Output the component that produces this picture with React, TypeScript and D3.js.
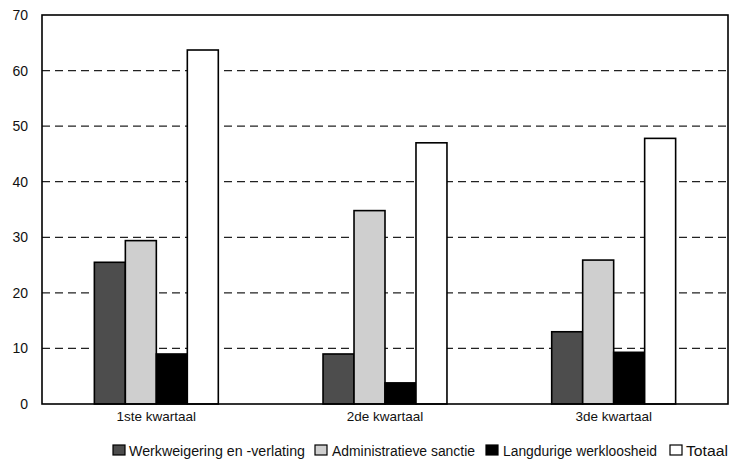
import React from "react";
import * as d3 from "d3";

const categories = ["1ste kwartaal", "2de kwartaal", "3de kwartaal"];
const seriesNames = [
  "Werkweigering en -verlating",
  "Administratieve sanctie",
  "Langdurige werkloosheid",
  "Totaal",
];
const werkweigering = [25.5, 9.0, 13.0];
const administratief = [29.4, 34.8, 25.9];
const langdurig = [9.0, 3.8, 9.3];
const totaal = [63.7, 47.0, 47.8];
const yTicks = [0, 10, 20, 30, 40, 50, 60, 70];

const seriesValues = [werkweigering, administratief, langdurig, totaal];
const fills = ["#4d4d4d", "#cfcfcf", "#000000", "#ffffff"];

const W = 730;
const H = 467;
const left = 42;
const right = 728;
const top = 15;
const bottom = 404;

export default function App() {
  const x = d3.scaleBand<string>().domain(categories).range([left, right]).paddingInner(0.458).paddingOuter(0.229);
  const xs = d3.scaleBand<string>().domain(seriesNames).range([0, x.bandwidth()]).padding(0);
  const y = d3.scaleLinear().domain([0, 70]).range([bottom, top]);

  const legendX = [113, 315, 486, 670];
  const legendTextX = [129, 332, 503, 686];
  const legendTextW = [176, 143, 154, 42];

  return (
    <div style={{ position: "absolute", left: 0, top: 0 }}>
      <svg width={W} height={H} style={{ display: "block", fontFamily: "Arial, 'Liberation Sans', sans-serif" }}>
        <rect x={0} y={0} width={W} height={H} fill="#fff" />
        {yTicks.filter((t) => t > 0 && t < 70).map((t) => (
          <line key={t} x1={left} x2={right} y1={y(t)} y2={y(t)} stroke="#222" strokeWidth={1.2} strokeDasharray="8,5" />
        ))}
        {categories.map((c, ci) =>
          seriesNames.map((s, si) => {
            const v = seriesValues[si][ci];
            const bx = (x(c) as number) + (xs(s) as number);
            return (
              <rect
                key={c + s}
                x={bx}
                y={y(v)}
                width={xs.bandwidth()}
                height={y(0) - y(v)}
                fill={fills[si]}
                stroke="#000"
                strokeWidth={1.6}
              />
            );
          })
        )}
        <rect x={left} y={top} width={right - left} height={bottom - top} fill="none" stroke="#000" strokeWidth={1.6} />
        {yTicks.map((t) => (
          <text key={t} x={28} y={y(t) + 5} textAnchor="end" fontSize={14} fill="#111">
            {t}
          </text>
        ))}
        {categories.map((c) => (
          <text key={c} x={(x(c) as number) + x.bandwidth() / 2} y={421} textAnchor="middle" fontSize={13.5} fill="#111">
            {c}
          </text>
        ))}
        {seriesNames.map((s, i) => (
          <g key={s}>
            <rect x={legendX[i]} y={445} width={12} height={10} fill={fills[i]} stroke="#000" strokeWidth={1.2} />
            <text x={legendTextX[i]} y={456} fontSize={14} fill="#111" textLength={legendTextW[i]} lengthAdjust="spacingAndGlyphs">
              {s}
            </text>
          </g>
        ))}
      </svg>
    </div>
  );
}
